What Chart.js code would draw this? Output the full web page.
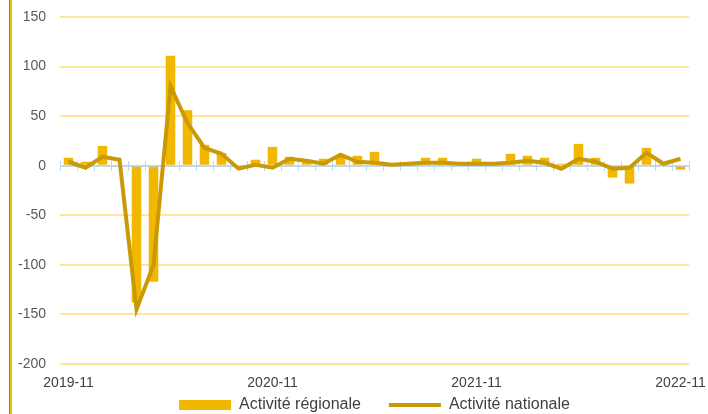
<!DOCTYPE html>
<html>
<head>
<meta charset="utf-8">
<script src="https://cdn.jsdelivr.net/npm/chart.js@4.4.0/dist/chart.umd.min.js"></script>
<style>
  html, body { margin: 0; padding: 0; background: #fff; }
  #wrap { position: relative; width: 708px; height: 414px; }
  #edge { position: absolute; left: 9px; top: 0; width: 1px; height: 414px; background: #6a9a3c; border-right: 2px solid #e8c000; }
</style>
</head>
<body>
<div id="wrap">
  <canvas id="chart" width="708" height="414"></canvas>
  <div id="edge"></div>
</div>
<script>
// Monthly categories, 2019-11 .. 2022-11
const months = [
  '2019-11', '2019-12', '2020-01', '2020-02', '2020-03', '2020-04', '2020-05', '2020-06',
  '2020-07', '2020-08', '2020-09', '2020-10', '2020-11', '2020-12', '2021-01', '2021-02',
  '2021-03', '2021-04', '2021-05', '2021-06', '2021-07', '2021-08', '2021-09', '2021-10',
  '2021-11', '2021-12', '2022-01', '2022-02', '2022-03', '2022-04', '2022-05', '2022-06',
  '2022-07', '2022-08', '2022-09', '2022-10', '2022-11'
];

// Activité régionale (bars)
const regionale = [
  8, 4, 20, 1, -138, -117, 111, 56, 21, 13, 0, 6,
  19, 9, 6, 7, 10, 10, 14, 1, 3, 8, 8, 1,
  7, 2, 12, 10, 8, 2, 22, 8, -12, -18, 18, 2, -4
];

// Activité nationale (line)
const nationale = [
  4, -2, 9, 6, -145, -100, 80, 43, 18, 12, -3, 1,
  -2, 7, 5, 2, 11, 4, 3, 1, 2, 3, 3, 2,
  2, 2, 3, 5, 3, -3, 7, 4, -3, -2, 13, 2, 7
];

const yTicks = [-200, -150, -100, -50, 0, 50, 100, 150];

Chart.defaults.font.family = '"Liberation Sans", Arial, sans-serif';
Chart.defaults.color = '#595959';

new Chart(document.getElementById('chart'), {
  type: 'bar',
  data: {
    labels: months,
    datasets: [
      {
        type: 'bar',
        label: 'Activité régionale',
        data: regionale,
        backgroundColor: '#F2B700',
        borderWidth: 0,
        barPercentage: 0.56,
        categoryPercentage: 1,
        order: 1
      },
      {
        type: 'line',
        label: 'Activité nationale',
        data: nationale,
        borderColor: '#C99A06',
        backgroundColor: '#C99A06',
        borderWidth: 4,
        pointRadius: 0,
        tension: 0,
        order: 0
      }
    ]
  },
  options: {
    responsive: false,
    animation: false,
    devicePixelRatio: 1,
    layout: { padding: { top: 17, left: 10, right: 19, bottom: 0 } },
    plugins: {
      tooltip: { enabled: false },
      legend: {
        position: 'bottom',
        fullSize: false,
        maxHeight: 22,
        // empty title with negative padding pulls the row up inside the short box
        title: { display: true, text: '', font: { size: 1, lineHeight: 1 }, padding: { top: -24, bottom: 0 } },
        labels: {
          usePointStyle: true,
          pointStyleWidth: 52,
          boxHeight: 10,
          padding: 28,
          color: '#404040',
          font: { size: 16 },
          sort: (a, b) => a.datasetIndex - b.datasetIndex,
          generateLabels(chart) {
            const items = Chart.defaults.plugins.legend.labels.generateLabels(chart);
            items.forEach(it => { it.pointStyle = it.datasetIndex === 0 ? 'rect' : 'line'; });
            return items;
          }
        }
      }
    },
    scales: {
      x: {
        offset: true,
        grid: { display: false, drawTicks: false },
        border: { display: false },
        afterFit(scale) {
          scale.height = 28;
          scale.paddingLeft = 0;
          scale.paddingRight = 0;
        },
        ticks: {
          autoSkip: false,
          maxRotation: 0,
          padding: 11,
          color: '#404040',
          font: { size: 14 },
          callback(value, index) { return index % 12 === 0 ? months[index] : ''; }
        }
      },
      // crossing tick marks on the zero line
      x2: {
        type: 'category',
        labels: months,
        position: { y: 5 },
        offset: true,
        border: { display: false },
        ticks: { display: false, autoSkip: false },
        grid: {
          offset: true,
          drawOnChartArea: false,
          drawTicks: true,
          tickLength: 10,
          color: '#BDD7EE',
          lineWidth: 1
        }
      },
      y: {
        min: -200,
        max: 150,
        afterFit(scale) {
          scale.width = 50;
          scale.paddingTop = 0;
          scale.paddingBottom = 0;
        },
        afterBuildTicks(scale) { scale.ticks = yTicks.map(v => ({ value: v })); },
        border: { display: false },
        grid: {
          drawTicks: false,
          lineWidth: 2,
          color: ctx => ctx.tick && ctx.tick.value === 0 ? '#BDD7EE' : '#FFE699'
        },
        ticks: {
          padding: 14,
          color: '#595959',
          font: { size: 14 }
        }
      }
    }
  }
});
</script>
</body>
</html>
